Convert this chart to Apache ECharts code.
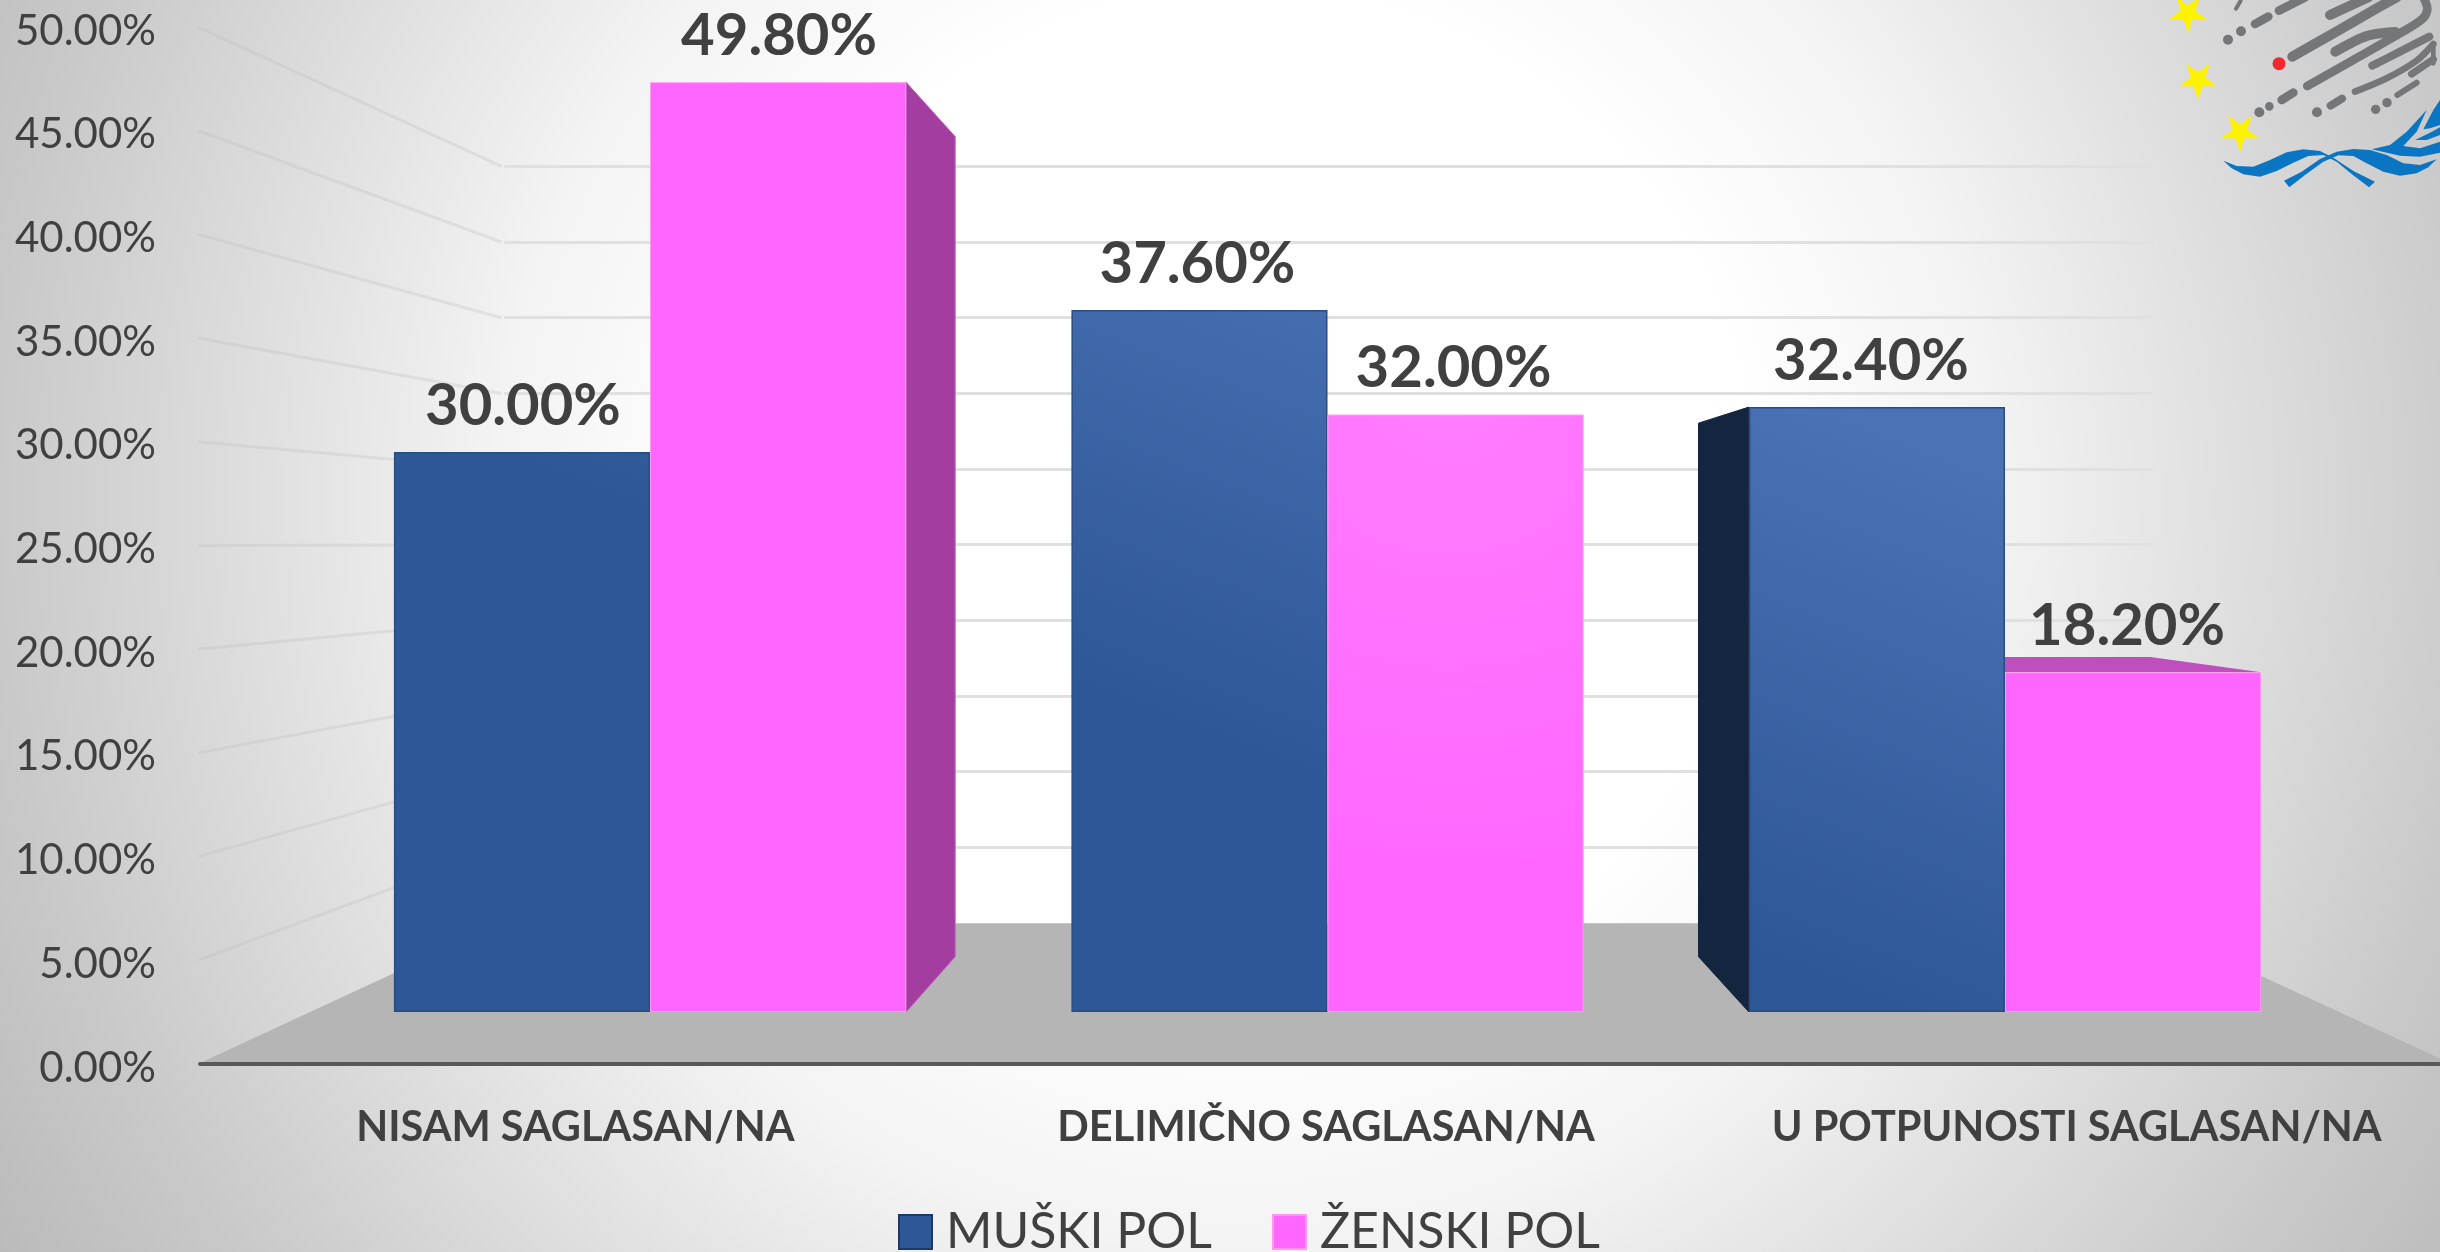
<!DOCTYPE html>
<html><head><meta charset="utf-8">
<style>html,body{margin:0;padding:0;background:#fff}#c{width:2440px;height:1252px}</style>
<script src="https://cdn.jsdelivr.net/npm/echarts@6/dist/echarts.min.js"></script>
</head><body><div id="c"></div>
<script>
const categories = ['NISAM SAGLASAN/NA', 'DELIMIČNO SAGLASAN/NA', 'U POTPUNOSTI SAGLASAN/NA'];
const muski = [30.0, 37.6, 32.4];
const zenski = [49.8, 32.0, 18.2];
const seriesNames = ['MUŠKI POL', 'ŽENSKI POL'];
const wallTicks = [5, 10, 15, 20, 25, 30, 35, 40, 45, 50];

const FONT = 'Lato';
const TEXT = '#404040';
const VP = [1322, 543];       // vanishing point of the 3D view
const DEPTH = 0.882;          // back of a bar relative to its front
const WALL = 0.73;            // back wall relative to the axis plane
const BAR_SHARE = 0.378;      // bar width as a share of the category band
const LABEL_SHIFT = [1, -2, -6];
const project = (p, s) => [VP[0] + (p[0] - VP[0]) * s, VP[1] + (p[1] - VP[1]) * s];
const num = v => Number(v).toFixed(2) + '%';

function faces(kind, colors) {
  return function (params, api) {
    const i = api.value(0), v = api.value(1);
    const c = api.coord([i, v]), b = api.coord([i, 0]);
    const bw = api.size([1, 0])[0] * BAR_SHARE;
    const l = kind === 'left' ? c[0] - bw : c[0];
    const r = l + bw;
    const kids = [];
    if (kind === 'right' && r < VP[0]) {
      kids.push({ type: 'polygon', shape: { points: [[r, c[1]], project([r, c[1]], DEPTH), project([r, b[1]], DEPTH), [r, b[1]]] },
        style: { fill: colors.side, stroke: colors.sideEdge, lineWidth: 1 } });
    }
    if (kind === 'left' && l > VP[0]) {
      kids.push({ type: 'polygon', shape: { points: [[l, c[1]], project([l, c[1]], DEPTH), project([l, b[1]], DEPTH), [l, b[1]]] },
        style: { fill: colors.side, stroke: colors.sideEdge, lineWidth: 1 } });
    }
    if (c[1] > VP[1]) {
      kids.push({ type: 'polygon', shape: { points: [[l, c[1]], [r, c[1]], project([r, c[1]], DEPTH), project([l, c[1]], DEPTH)] },
        style: { fill: colors.top } });
    }
    return { type: 'group', children: kids };
  };
}

/* logo: traced in the pixels of a 3x crop, origin (2220, 0) */
const lx = x => x / 3 + 2220, ly = y => y / 3;
const pt = p => [lx(p[0]), ly(p[1])];
const logo = [];
function star(cx, cy, R) {
  const pts = [];
  for (let k = 0; k < 10; k++) {
    const rr = k % 2 ? R * 0.38 : R, a = Math.PI / 2 + k * Math.PI / 5;
    pts.push([cx + rr * Math.cos(a), cy + rr * Math.sin(a)]);
  }
  logo.push({ type: 'polygon', shape: { points: pts }, style: { fill: '#FFF200' }, z: 20 });
}
[[2188, 13], [2198, 80], [2240, 132]].forEach(s => star(s[0], s[1], 20));
const GREY = '#747678';
[[24,119,15],[63,94,15],[118,337,15],[148,319,13],[291,337,15],[467,328,14],[501,308,14]].forEach(d =>
  logo.push({ type: 'circle', shape: { cx: lx(d[0]), cy: ly(d[1]), r: d[2] / 3 }, style: { fill: GREY }, z: 20 }));
logo.push({ type: 'circle', shape: { cx: lx(177), cy: ly(191), r: 6.5 }, style: { fill: '#EE2A2E' }, z: 20 });
const strokes = [
  [[[48,26],[62,2]],12], [[[105,72],[145,50]],26], [[[177,32],[255,-8]],26],
  [[[217,170],[340,100],[470,25],[530,-8]],30], [[[330,45],[445,-8]],30],
  [[[346,155],[440,108],[526,96]],30],
  [[[262,258],[400,180],[540,100],[606,58],[622,28],[612,-5]],26],
  [[[457,197],[540,155],[628,110]],24],
  [[[405,275],[500,235],[590,182],[640,132]],20],
  [[[532,285],[590,248]],18], [[[575,222],[640,178]],22], [[[640,130],[640,190]],14],
  [[[185,300],[220,278]],26], [[[332,317],[366,296]],24]
];
strokes.forEach(s => logo.push({ type: 'polyline', shape: { points: s[0].map(pt), smooth: 0.3 },
  style: { fill: 'none', stroke: GREY, lineWidth: s[1] / 3, lineCap: 'round', lineJoin: 'round' }, z: 20 }));
const blue = [
  [[10,212],[50,228],[100,230],[150,210],[200,187],[250,178],[300,183],[340,203],[400,243],[465,275],[447,292],[395,252],[350,215],[310,195],[265,198],[220,218],[170,243],[120,260],[70,253],[35,235]],
  [[650,208],[600,225],[550,220],[500,195],[450,180],[400,177],[350,185],[300,207],[245,245],[192,272],[208,292],[255,255],[310,215],[355,196],[400,198],[440,220],[490,245],[540,257],[590,250],[625,232]],
  [[455,178],[510,165],[560,125],[620,60],[590,125],[550,168],[600,175],[660,155],[660,188],[600,200],[540,197]],
  [[585,150],[630,128],[660,112],[660,135],[620,150]],
  [[610,118],[640,60],[660,30],[660,105],[630,115]]
];
blue.forEach(b => logo.push({ type: 'polygon', shape: { points: b.map(p => [lx(p[0]), 90 + ly(p[1])]) }, style: { fill: '#0A75C2' }, z: 19 }));

const navyFill = { type: 'linear', global: true, x: 1880, y: 1000, x2: 2079, y2: 499,
  colorStops: [{ offset: 0, color: '#2E5797' }, { offset: 1, color: '#4A72B5' }] };
const pinkFill = { type: 'radial', global: true, x: 1450, y: 380, r: 520,
  colorStops: [{ offset: 0, color: '#FF7DFF' }, { offset: 1, color: '#FF66FF' }] };
const withShift = arr => arr.map((v, i) => ({ value: v, label: { offset: [LABEL_SHIFT[i], 0] } }));

const chart = echarts.init(document.getElementById('c'), null, { renderer: 'canvas' });
chart.setOption({
  animation: false,
  backgroundColor: { type: 'radial', x: 0.51, y: 0.40, r: 1.158,
    colorStops: [{ offset: 0, color: '#ffffff' }, { offset: 0.345, color: '#ffffff' }, { offset: 0.517, color: '#f3f3f3' }, { offset: 0.862, color: '#c9c9c9' }, { offset: 1, color: '#bbbbbb' }] },
  textStyle: { fontFamily: FONT },
  grid: [
    { left: 200, width: 2252, top: 27, height: 1037, outerBoundsMode: 'none' },
    { left: 311.25, width: 2032.5, top: 78.5, height: 933.5, outerBoundsMode: 'none' },
    { left: 504, width: 1649, top: 166.4, height: 756.6, outerBoundsMode: 'none' }
  ],
  xAxis: [
    { gridIndex: 0, type: 'category', data: categories, axisTick: { show: false },
      axisLine: { lineStyle: { color: '#595959', width: 4 } },
      axisLabel: { interval: 0, margin: 43, fontFamily: FONT, fontWeight: 'bold', fontSize: 41.5, color: TEXT } },
    { gridIndex: 1, type: 'category', data: categories, axisTick: { show: false }, axisLine: { show: false }, axisLabel: { show: false } },
    { gridIndex: 2, type: 'category', data: categories, axisTick: { show: false }, axisLine: { show: false }, axisLabel: { show: false } }
  ],
  yAxis: [
    { gridIndex: 0, type: 'value', min: 0, max: 50, interval: 5, splitLine: { show: false }, axisLine: { show: false }, axisTick: { show: false },
      axisLabel: { margin: 44, fontFamily: FONT, fontSize: 42, color: TEXT, formatter: num, verticalAlign: 'top', lineHeight: 8 } },
    { gridIndex: 1, type: 'value', min: 0, max: 50, interval: 5, splitLine: { show: false }, axisLine: { show: false }, axisTick: { show: false }, axisLabel: { show: false } },
    { gridIndex: 2, type: 'value', min: 0, max: 50, interval: 5, axisLine: { show: false }, axisTick: { show: false }, axisLabel: { show: false },
      splitLine: { show: true, showMinLine: false, lineStyle: { color: '#e0e0e0', width: 3 } } }
  ],
  legend: {
    show: true, left: 893, top: 1202, itemWidth: 33, itemHeight: 34, itemGap: 60,
    data: [
      { name: seriesNames[0], icon: 'rect', itemStyle: { color: '#2E5797', borderColor: '#1F3864', borderWidth: 2 } },
      { name: seriesNames[1], icon: 'rect', itemStyle: { color: '#FF66FF', borderColor: '#FF99E8', borderWidth: 2 } }
    ],
    textStyle: { fontFamily: FONT, fontSize: 50, color: TEXT, padding: [0, 0, 0, 9] }
  },
  graphic: logo,
  series: [
    { name: 'floor', type: 'custom', xAxisIndex: 0, yAxisIndex: 0, z: -1, silent: true, clip: false, data: [[0, 0]], encode: { x: 0, y: 1 },
      renderItem: function (params, api) {
        const r = params.coordSys, y = r.y + r.height, x0 = r.x - 2, x1 = r.x + r.width;
        const a = project([x0, y], WALL), b = project([x1, y], WALL);
        return { type: 'polygon', shape: { points: [[x0, y], a, b, [x1, y]] }, style: { fill: '#B5B5B5' } };
      } },
    { name: 'leftWall', type: 'custom', xAxisIndex: 0, yAxisIndex: 0, z: 0, silent: true, data: wallTicks.map(v => [0, v]), encode: { x: 0, y: 1 },
      renderItem: function (params, api) {
        const r = params.coordSys, p = [r.x - 2, api.coord([0, api.value(1)])[1]], q = project(p, WALL);
        return { type: 'line', shape: { x1: p[0], y1: p[1], x2: q[0], y2: q[1] }, style: { stroke: 'rgba(190,190,190,0.3)', lineWidth: 3 } };
      } },
    { name: 'pinkFaces', type: 'custom', xAxisIndex: 1, yAxisIndex: 1, z: 1, silent: true, data: zenski.map((v, i) => [i, v]), encode: { x: 0, y: 1 },
      renderItem: faces('right', { side: '#A33EA0', sideEdge: '#C060C0', top: '#BF4EBF' }) },
    { name: 'navyFaces', type: 'custom', xAxisIndex: 1, yAxisIndex: 1, z: 1, silent: true, data: muski.map((v, i) => [i, v]), encode: { x: 0, y: 1 },
      renderItem: faces('left', { side: '#14253F', sideEdge: '#14253F', top: '#14253F' }) },
    { name: seriesNames[0], type: 'bar', xAxisIndex: 1, yAxisIndex: 1, data: withShift(muski), barWidth: (BAR_SHARE * 100) + '%', barGap: 0, z: 2,
      itemStyle: { color: navyFill, borderColor: '#2A4C84', borderWidth: 1.5 },
      label: { show: true, position: 'top', distance: 17, fontFamily: FONT, fontWeight: 'bold', fontSize: 58, color: TEXT, formatter: p => num(p.value) } },
    { name: seriesNames[1], type: 'bar', xAxisIndex: 1, yAxisIndex: 1, data: withShift(zenski), barWidth: (BAR_SHARE * 100) + '%', barGap: 0, z: 2,
      itemStyle: { color: pinkFill, borderColor: '#FF9BEF', borderWidth: 1 },
      label: { show: true, position: 'top', distance: 17, fontFamily: FONT, fontWeight: 'bold', fontSize: 58, color: TEXT, formatter: p => num(p.value) } }
  ]
});
</script></body></html>
